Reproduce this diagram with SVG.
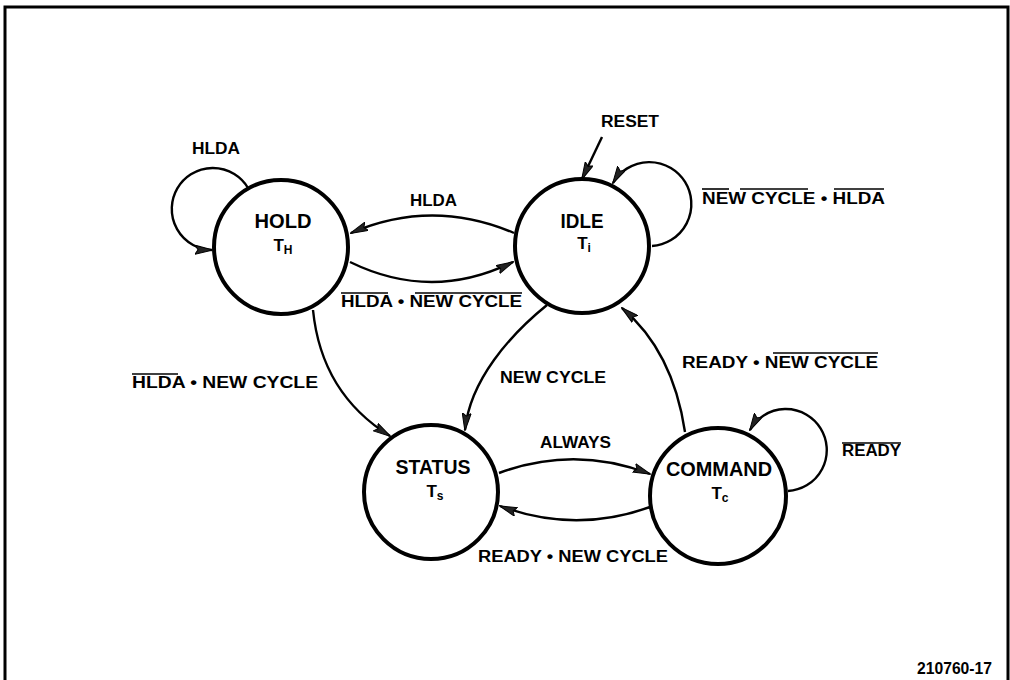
<svg xmlns="http://www.w3.org/2000/svg" width="1010" height="680" viewBox="0 0 1010 680">
<style>
.node{fill:#fff;stroke:#000;stroke-width:4}
.name{font-family:"Liberation Sans",Arial,sans-serif;font-weight:bold;font-size:20px;fill:#000;text-anchor:middle}
.sub{font-family:"Liberation Sans",Arial,sans-serif;font-weight:bold;font-size:17px;fill:#000;text-anchor:middle}
.lbl{font-family:"Liberation Sans",Arial,sans-serif;font-weight:bold;font-size:16px;fill:#000}
.edge{fill:none;stroke:#000;stroke-width:2.4}
.ov{stroke:#000;stroke-width:1.6}
</style>
<defs>
<marker id="arr" viewBox="0 0 18 10" refX="17" refY="5" markerWidth="18" markerHeight="10" markerUnits="userSpaceOnUse" orient="auto">
<path d="M0,0.5 L18,5 L0,9.5 L3,5 Z" fill="#222" stroke="#000" stroke-width="1"/>
</marker>
</defs>
<rect x="0" y="0" width="1010" height="680" fill="#fff"/>
<path d="M5,700 V7 H1008 V700" fill="none" stroke="#000" stroke-width="3"/>

<g id="connectors">
<path class="edge" d="M248,188 A41,41 0 1 0 212,250" marker-end="url(#arr)"/>
<path class="edge" d="M652,246 A42,42 0 1 0 613,183" marker-end="url(#arr)"/>
<path class="edge" d="M788,491 A41,41 0 1 0 750,430" marker-end="url(#arr)"/>
<path class="edge" d="M514,233 Q432,198 351,233" marker-end="url(#arr)"/>
<path class="edge" d="M350,262 Q432,302 513,262" marker-end="url(#arr)"/>
<path class="edge" d="M313,310 C318,360 340,405 390,436" marker-end="url(#arr)"/>
<path class="edge" d="M547,305 C510,335 470,380 465,430" marker-end="url(#arr)"/>
<path class="edge" d="M685,432 C678,385 660,340 622,308" marker-end="url(#arr)"/>
<path class="edge" d="M499,473 Q575,445 650,474" marker-end="url(#arr)"/>
<path class="edge" d="M650,507 Q575,534 500,506" marker-end="url(#arr)"/>
<path class="edge" d="M602,137 L582,179" marker-end="url(#arr)"/>
</g>

<g id="hold">
<circle class="node" cx="281" cy="247" r="67"/>
<text class="name" x="283" y="228" textLength="57" lengthAdjust="spacingAndGlyphs">HOLD</text>
<text class="sub" x="283" y="251">T<tspan font-size="12" dy="3">H</tspan></text>
</g>
<g id="idle">
<circle class="node" cx="582" cy="246" r="67"/>
<text class="name" x="582" y="228" textLength="43" lengthAdjust="spacingAndGlyphs">IDLE</text>
<text class="sub" x="584" y="249">T<tspan font-size="12" dy="3">i</tspan></text>
</g>
<g id="status">
<circle class="node" cx="431" cy="492" r="67"/>
<text class="name" x="433" y="474" textLength="75" lengthAdjust="spacingAndGlyphs">STATUS</text>
<text class="sub" x="435" y="497">T<tspan font-size="12" dy="3">s</tspan></text>
</g>
<g id="command">
<circle class="node" cx="718" cy="496" r="68"/>
<text class="name" x="719" y="476" textLength="106" lengthAdjust="spacingAndGlyphs">COMMAND</text>
<text class="sub" x="720" y="499">T<tspan font-size="12" dy="3">c</tspan></text>
</g>

<g id="labels">
<text class="lbl" x="192" y="154" textLength="48" lengthAdjust="spacingAndGlyphs">HLDA</text>
<text class="lbl" x="410" y="206" textLength="47" lengthAdjust="spacingAndGlyphs">HLDA</text>
<text class="lbl" x="341" y="307" textLength="181" lengthAdjust="spacingAndGlyphs">HLDA • NEW CYCLE</text>
<line class="ov" x1="341" y1="293" x2="388" y2="293"/>
<line class="ov" x1="415" y1="293" x2="522" y2="293"/>
<text class="lbl" x="601" y="127" textLength="58" lengthAdjust="spacingAndGlyphs">RESET</text>
<text class="lbl" x="702" y="204" textLength="183" lengthAdjust="spacingAndGlyphs">NEW CYCLE • HLDA</text>
<line class="ov" x1="702" y1="189" x2="729" y2="189"/>
<line class="ov" x1="740" y1="189" x2="808" y2="189"/>
<line class="ov" x1="834" y1="189" x2="884" y2="189"/>
<text class="lbl" x="132" y="388" textLength="186" lengthAdjust="spacingAndGlyphs">HLDA • NEW CYCLE</text>
<line class="ov" x1="132" y1="374" x2="178" y2="374"/>
<text class="lbl" x="500" y="383" textLength="106" lengthAdjust="spacingAndGlyphs">NEW CYCLE</text>
<text class="lbl" x="682" y="368" textLength="196" lengthAdjust="spacingAndGlyphs">READY • NEW CYCLE</text>
<line class="ov" x1="773" y1="353" x2="878" y2="353"/>
<text class="lbl" x="842" y="456" textLength="59" lengthAdjust="spacingAndGlyphs">READY</text>
<line class="ov" x1="842" y1="443" x2="901" y2="443"/>
<text class="lbl" x="540" y="448" textLength="71" lengthAdjust="spacingAndGlyphs">ALWAYS</text>
<text class="lbl" x="478" y="562" textLength="190" lengthAdjust="spacingAndGlyphs">READY • NEW CYCLE</text>
<text class="lbl" x="917" y="674" textLength="75" lengthAdjust="spacingAndGlyphs" font-size="15">210760-17</text>
</g>
</svg>
